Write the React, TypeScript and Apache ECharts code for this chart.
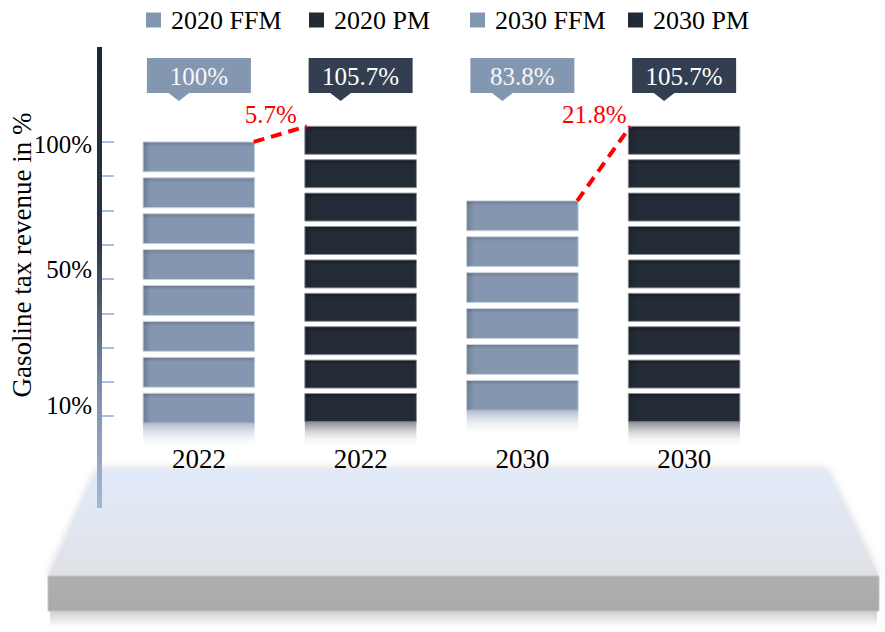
import React, { useEffect, useRef } from 'react';
import * as echarts from 'echarts';

// ---- data ----
const seriesNames = ['2020 FFM', '2020 PM', '2030 FFM', '2030 PM'];
const xLabels = ['2022', '2022', '2030', '2030'];
const barHeights = [100, 105.7, 78.5, 105.7]; // drawn bar tops (axis units)
const blockCounts = [8, 9, 6, 9];
const valueLabels = ['100%', '105.7%', '83.8%', '105.7%'];
const connectorPairs = [[0, 1], [2, 3]];
const connectorLabels = ['5.7%', '21.8%'];
const yTickValues = [0, 12.5, 25, 37.5, 50, 62.5, 75, 87.5, 100];
const yLabelValues = [98.9, 53.6, 4.0];
const yLabelTexts = ['100%', '50%', '10%'];
const yAxisTitle = 'Gasoline tax revenue in %';

// ---- styles ----
const FONT = '"Liberation Serif", "Times New Roman", serif';
const BAR_RATIO = 0.69;
const FADE_H = 26;
const BOX_TOP = 58;
const BOX_H = 35;
const BOX_W = 104;
const legendLefts = [141, 304, 465, 623];
const kinds = ['light', 'dark', 'light', 'dark'];
const KIND: any = {
  light: {
    top: '#6C7B91', base: '#8597B0', stroke: '#CBD3DE', pitch: 35.9, gap: 6,
    fade: 'rgba(133,151,176,0.65)', box: '#8497B0', text: '#F5F7FA', legend: '#8497B0',
  },
  dark: {
    top: '#161B22', base: '#232B36', stroke: '#8E949C', pitch: 33.4, gap: 5.4,
    fade: 'rgba(34,42,53,0.55)', box: '#333F50', text: '#FFFFFF', legend: '#222A35',
  },
};

function vGrad(stops: [number, string][]) {
  return new echarts.graphic.LinearGradient(0, 0, 0, 1, stops.map(([offset, color]) => ({ offset, color })));
}
function hGrad(stops: [number, string][]) {
  return new echarts.graphic.LinearGradient(0, 0, 1, 0, stops.map(([offset, color]) => ({ offset, color })));
}

function makeBarSeries(i: number) {
  const k = KIND[kinds[i]];
  return {
    type: 'custom',
    name: seriesNames[i],
    itemStyle: { color: k.legend },
    data: [[i, barHeights[i], blockCounts[i]]],
    encode: { x: 0, y: 1 },
    z: 3,
    renderItem: (params: any, api: any) => {
      const xi = api.value(0);
      const h = api.value(1);
      const n = api.value(2);
      const p = api.coord([xi, h]);
      const band = api.size([1, 0])[0];
      const w = band * BAR_RATIO;
      const x0 = p[0] - w / 2;
      const segH = k.pitch - k.gap;
      const children: any[] = [];
      for (let j = 0; j < n; j++) {
        const y = p[1] + j * k.pitch;
        children.push({
          type: 'rect',
          shape: { x: x0, y, width: w, height: segH },
          style: {
            fill: vGrad([[0, k.top], [0.16, k.base], [1, k.base]]),
            stroke: k.stroke,
            lineWidth: 1,
          },
        });
        children.push({
          type: 'rect',
          silent: true,
          shape: { x: x0 + 0.5, y: y + 0.5, width: 7, height: segH - 1 },
          style: { fill: hGrad([[0, 'rgba(0,0,0,0.16)'], [1, 'rgba(0,0,0,0)']]) },
        });
      }
      const yb = p[1] + n * k.pitch - k.gap;
      children.push({
        type: 'rect',
        silent: true,
        shape: { x: x0, y: yb, width: w, height: FADE_H },
        style: { fill: vGrad([[0, k.fade], [1, 'rgba(255,255,255,0)']]) },
      });
      // callout
      const bx = p[0] - BOX_W / 2;
      const tip = p[0] - 20;
      children.push({
        type: 'rect',
        shape: { x: bx, y: BOX_TOP, width: BOX_W, height: BOX_H },
        style: { fill: k.box },
      });
      children.push({
        type: 'polygon',
        shape: { points: [[tip - 11, BOX_TOP + BOX_H - 0.5], [tip + 11, BOX_TOP + BOX_H - 0.5], [tip, BOX_TOP + BOX_H + 8]] },
        style: { fill: k.box },
      });
      children.push({
        type: 'text',
        x: p[0],
        y: BOX_TOP + BOX_H / 2 + 1,
        style: {
          text: valueLabels[i], fill: k.text, fontSize: 25, fontFamily: FONT,
          align: 'center', verticalAlign: 'middle',
        },
      });
      return { type: 'group', children };
    },
  };
}

export default function App() {
  const ref = useRef<HTMLDivElement>(null);
  useEffect(() => {
    if (!ref.current) return;
    const chart = echarts.init(ref.current, undefined, { renderer: 'svg' });
    const series: any[] = seriesNames.map((_, i) => makeBarSeries(i));
    series.push({
      type: 'custom',
      name: 'connectors',
      z: 5,
      data: connectorPairs.map(([a, b]) => [a, barHeights[a], b, barHeights[b]]),
      encode: { x: [0, 2], y: [1, 3] },
      renderItem: (params: any, api: any) => {
        const from = api.coord([api.value(0), api.value(1)]);
        const to = api.coord([api.value(2), api.value(3)]);
        const half = (api.size([1, 0])[0] * BAR_RATIO) / 2;
        const x1 = from[0] + half - 1;
        const x2 = to[0] - half + 2;
        return {
          type: 'group',
          children: [
            {
              type: 'line',
              shape: { x1, y1: from[1], x2, y2: to[1] },
              style: { stroke: '#FF0000', lineWidth: 4, lineDash: [11, 7] },
            },
            {
              type: 'text',
              x: x2 - 36,
              y: to[1] - 12,
              style: {
                text: connectorLabels[params.dataIndex], fill: '#FF0000', fontSize: 25,
                fontFamily: FONT, align: 'center', verticalAlign: 'middle',
              },
            },
          ],
        };
      },
    });

    const option: any = {
      animation: false,
      backgroundColor: '#ffffff',
      legend: seriesNames.map((name, i) => ({
        data: [name],
        left: legendLefts[i],
        top: 2,
        icon: 'rect',
        itemWidth: 15,
        itemHeight: 15,
        selectedMode: false,
        textStyle: { fontSize: 26, fontFamily: FONT, color: '#000', padding: [0, 0, 0, 5] },
      })),
      grid: { left: 118, right: 120, top: 46, bottom: 120, containLabel: false },
      xAxis: {
        type: 'category',
        data: xLabels,
        offset: -67,
        axisLine: { show: false },
        axisTick: { show: false },
        splitLine: { show: false },
        axisLabel: { interval: 0, margin: 0, fontSize: 27, fontFamily: FONT, color: '#000' },
      },
      yAxis: {
        type: 'value',
        min: -35,
        max: 135,
        offset: 16,
        axisLine: { show: false },
        splitLine: { show: false },
        axisTick: {
          show: true, inside: true, length: 12, customValues: yTickValues,
          lineStyle: { color: '#8EA9DB', width: 1.5 },
        },
        axisLabel: {
          customValues: yLabelValues,
          margin: 10,
          fontSize: 25,
          fontFamily: FONT,
          color: '#000',
          formatter: (v: number) => {
            const idx = yLabelValues.findIndex((x) => Math.abs(x - v) < 1e-6);
            return idx >= 0 ? yLabelTexts[idx] : '';
          },
        },
      },
      graphic: [
        {
          type: 'rect', silent: true, z: -10,
          shape: { x: 50, y: 609, width: 827, height: 18 },
          style: { fill: vGrad([[0, 'rgba(0,0,0,0.22)'], [1, 'rgba(0,0,0,0)']]) },
        },
        {
          type: 'polygon', silent: true, z: -9,
          shape: { points: [[97, 469], [827, 469], [879, 576], [48, 576]] },
          style: {
            fill: vGrad([[0, '#E1EAF9'], [0.5, '#E1E7F1'], [1, '#DFE1E5']]),
            shadowColor: 'rgba(0,0,0,0.18)', shadowBlur: 8,
          },
        },
        {
          type: 'rect', silent: true, z: -8,
          shape: { x: 48, y: 576, width: 831, height: 35 },
          style: { fill: vGrad([[0, '#AFAFAF'], [1, '#A9A9A9']]), stroke: '#C4C4C4', lineWidth: 1 },
        },
        {
          type: 'rect', silent: true, z: -5,
          shape: { x: 97, y: 47, width: 5, height: 461 },
          style: {
            fill: vGrad([[0, '#1F2733'], [0.42, '#2B3545'], [0.75, '#7D91AE'], [1, '#A6B7D1']]),
          },
        },
        {
          type: 'text', silent: true,
          x: 22, y: 255, rotation: Math.PI / 2,
          style: {
            text: yAxisTitle, fontSize: 27, fontFamily: FONT, fill: '#000',
            align: 'center', verticalAlign: 'middle',
          },
        },
      ],
      series,
    };
    chart.setOption(option);
    return () => chart.dispose();
  }, []);
  return (
    <div
      ref={ref}
      style={{ position: 'fixed', left: 0, top: 0, width: 885, height: 632, background: '#fff' }}
    />
  );
}
